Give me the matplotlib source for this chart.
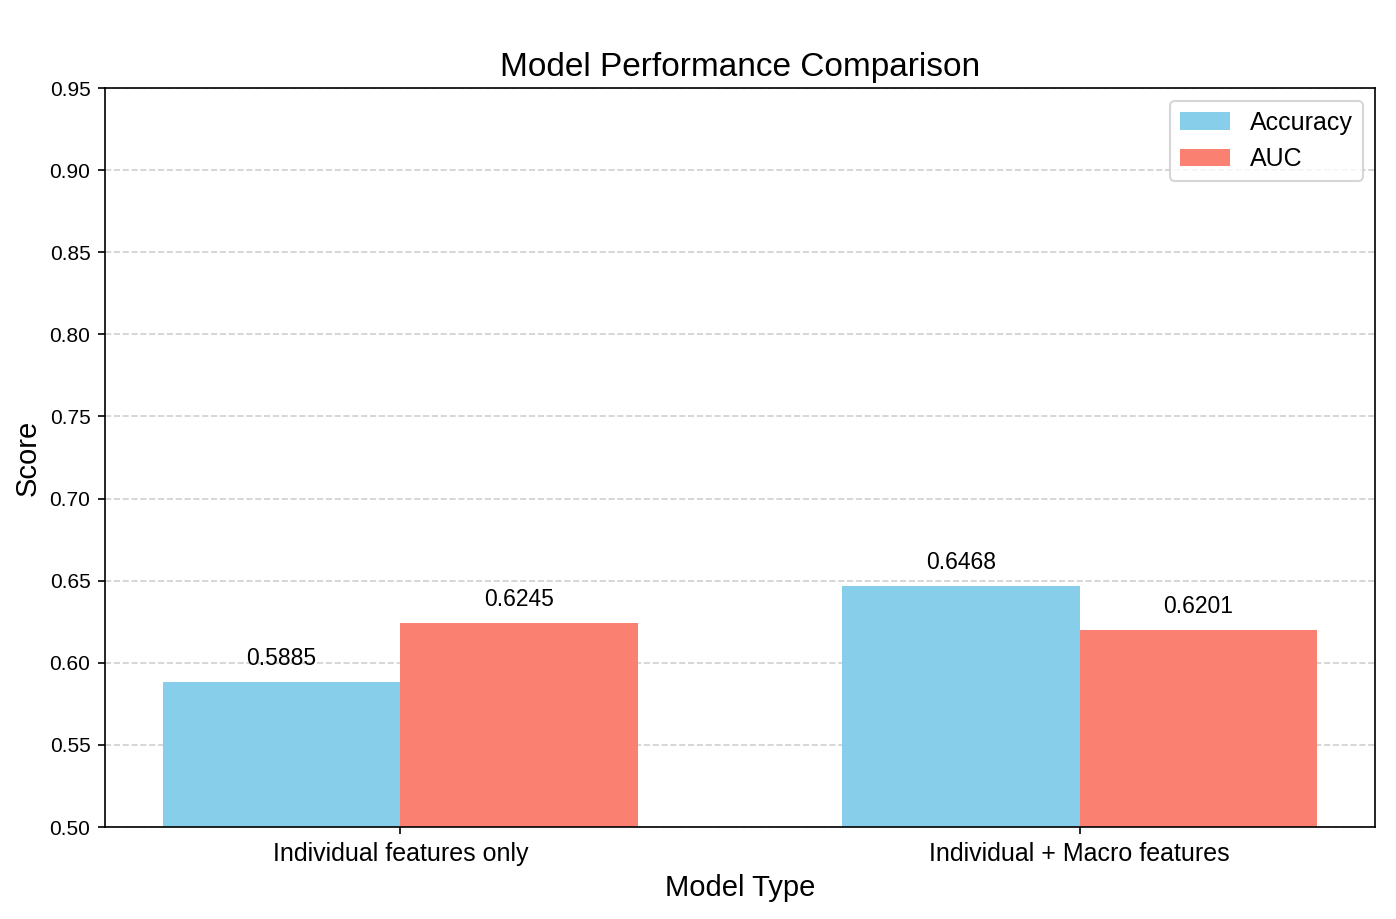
import numpy as np
import matplotlib.pyplot as plt

plt.rcParams['font.family'] = ['Liberation Sans', 'DejaVu Sans']

# Данные
models = ['Individual features only', 'Individual + Macro features']
accuracy = [0.5885, 0.6468]
auc = [0.6245, 0.6201]

x = np.arange(len(models))
width = 0.35

fig = plt.figure(figsize=(1396 / 150, 919 / 150), dpi=150)
ax = fig.add_axes([0.0752, 0.1001, 0.9098, 0.8041])

bars1 = ax.bar(x - width / 2, accuracy, width, label='Accuracy', color='skyblue')
bars2 = ax.bar(x + width / 2, auc, width, label='AUC', color='salmon')

# Подписи значений
for bars in (bars1, bars2):
    for b in bars:
        h = b.get_height()
        ax.text(b.get_x() + b.get_width() / 2, h + 0.007, f'{h:.4f}',
                ha='center', va='bottom', fontsize=11)

ax.set_ylim(0.5, 0.95)
ax.set_yticks(np.arange(0.5, 0.951, 0.05))
ax.set_xticks(x)
ax.set_xticklabels(models, fontsize=12)
ax.tick_params(axis='y', labelsize=10)
ax.set_xlabel('Model Type', fontsize=14)
ax.set_ylabel('Score', fontsize=14)
ax.set_title('Model Performance Comparison', fontsize=16)
ax.legend(fontsize=12, loc='upper right')
ax.grid(axis='y', linestyle='--', alpha=0.6)
ax.set_axisbelow(True)

plt.savefig('out.png', dpi=150)
